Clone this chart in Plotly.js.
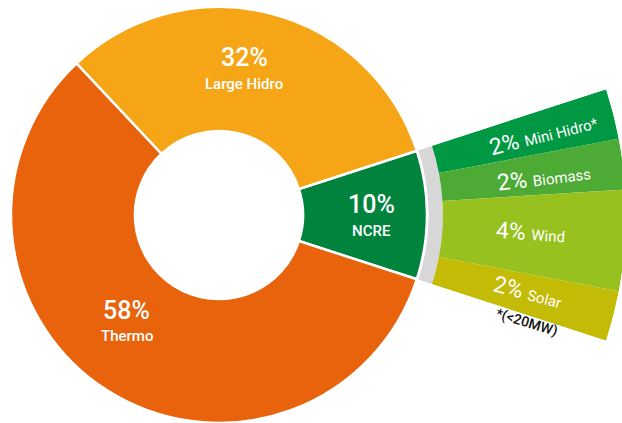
<!DOCTYPE html>
<html>
<head>
<meta charset="utf-8">
<script src="https://cdn.plot.ly/plotly-3.0.1.min.js"></script>
<style>
html,body{margin:0;padding:0;background:#fff;overflow:hidden;}
#wrap{width:622px;height:423px;overflow:hidden;position:relative;}
#chart{width:640px;height:423px;}
</style>
</head>
<body>
<div id="wrap"><div id="chart"></div></div>
<script>
// ---- data ----
var mainLabels = ['NCRE', 'Thermo', 'Large Hidro'];
var mainValues = [10, 58, 32];
var mainColors = ['#00833C', '#E8630C', '#F5A516'];

var ncreLabels = ['Mini Hidro*', 'Biomass', 'Wind', 'Solar'];
var ncreValues = [2, 2, 4, 2];
var ncreColors = ['#009843', '#4DAA34', '#97C11F', '#C4BB07'];

var footnote = '*(&lt;20MW)';

// ---- layout helpers ----
var W = 640, H = 423;
function px(x) { return x / W; }
function py(y) { return 1 - y / H; }
var FONT = "Roboto, 'Noto Sans', sans-serif";

var total = mainValues.reduce(function (a, b) { return a + b; }, 0);
var degPer = 360 / total;
var ncreIdx = mainLabels.indexOf('NCRE');
var ncreSpan = mainValues[ncreIdx] * degPer;

// fan segment angles (counterclockwise from east), from top to bottom
var fanTheta = [], fanWidth = [];
var start = ncreSpan / 2;
ncreValues.forEach(function (v) {
  var w = v * degPer;
  fanTheta.push(start - w / 2);
  fanWidth.push(w);
  start -= w;
});

var pie = {
  type: 'pie',
  labels: mainLabels,
  values: mainValues,
  sort: false,
  direction: 'clockwise',
  rotation: 90 - ncreSpan / 2,
  hole: 0.404,
  textinfo: 'none',
  hoverinfo: 'none',
  showlegend: false,
  marker: { colors: mainColors, line: { color: '#ffffff', width: 2.5 } },
  domain: { x: [px(11), px(427)], y: [py(423), py(7)] }
};

var grayArc = {
  type: 'barpolar',
  subplot: 'polar',
  theta: [0],
  width: [ncreSpan],
  base: [0.515],
  r: [0.035],
  marker: { color: '#D7D7D7', line: { width: 0 } },
  hoverinfo: 'none',
  showlegend: false
};

var fan = {
  type: 'barpolar',
  subplot: 'polar',
  theta: fanTheta,
  width: fanWidth,
  base: ncreValues.map(function () { return 0.55; }),
  r: ncreValues.map(function () { return 0.45; }),
  text: ncreLabels,
  marker: { color: ncreColors, line: { width: 0 } },
  hoverinfo: 'none',
  showlegend: false
};

function ann(x, y, text, size, angle, color, weight) {
  return {
    xref: 'paper', yref: 'paper', x: px(x), y: py(y),
    xanchor: 'center', yanchor: 'middle', showarrow: false,
    text: text, textangle: angle || 0,
    font: { family: FONT, size: size, color: color || '#ffffff', weight: weight || 500 }
  };
}

var pctOf = function (arr, i) { return arr[i] + '%'; };
var annotations = [
  ann(244, 58, pctOf(mainValues, 2), 25),
  ann(244, 84, mainLabels[2], 15),
  ann(371, 204, pctOf(mainValues, 0), 25),
  ann(371, 231, mainLabels[0], 15),
  ann(126, 310, pctOf(mainValues, 1), 25),
  ann(127, 336, mainLabels[1], 15)
];
var fanPos = [[543, 134], [544, 177], [530, 232], [528, 292]];
ncreLabels.forEach(function (lab, i) {
  annotations.push(ann(fanPos[i][0], fanPos[i][1],
    pctOf(ncreValues, i) + ' <span style="font-size:15px">' + lab + '</span>', 23, -fanTheta[i], '#ffffff', 400));
});
annotations.push(ann(527, 322, footnote, 14, 17, '#111111', 500));

var layout = {
  width: W, height: H,
  margin: { l: 0, r: 0, t: 0, b: 0 },
  paper_bgcolor: '#ffffff',
  showlegend: false,
  polar: {
    domain: { x: [px(219), px(626)], y: [py(363), py(67)] },
    sector: [-ncreSpan / 2, ncreSpan / 2],
    bgcolor: 'rgba(0,0,0,0)',
    hole: 0,
    radialaxis: { range: [0, 1], visible: false, showgrid: false },
    angularaxis: { visible: false, showgrid: false, rotation: 0, direction: 'counterclockwise' }
  },
  annotations: annotations
};

Plotly.newPlot('chart', [pie, grayArc, fan], layout, { staticPlot: true, displayModeBar: false });
</script>
</body>
</html>
